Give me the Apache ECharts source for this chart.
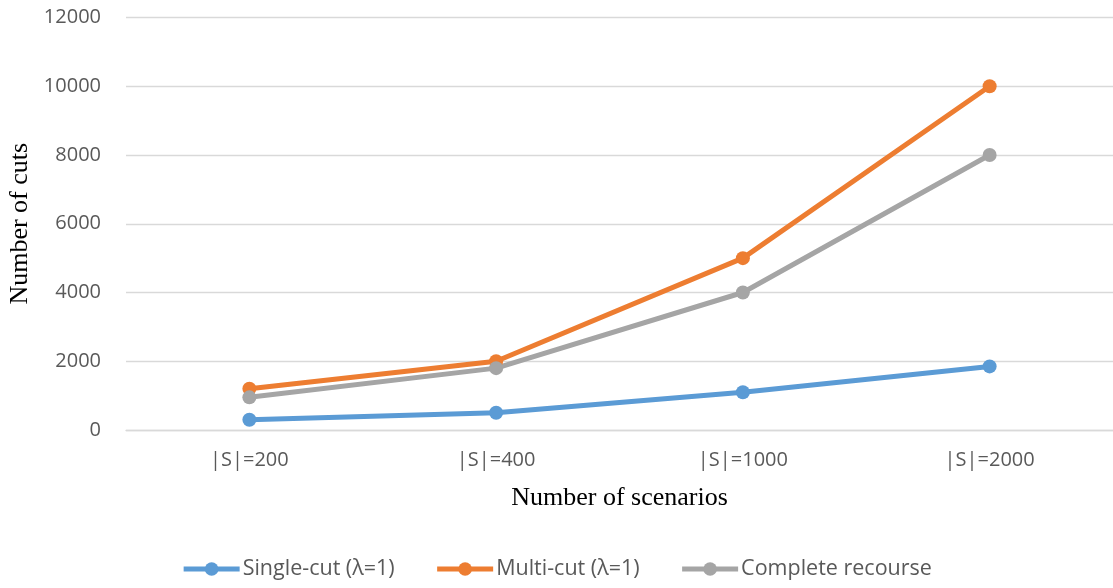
<!DOCTYPE html>
<html>
<head>
<meta charset="utf-8">
<script src="https://cdn.jsdelivr.net/npm/echarts@6/dist/echarts.min.js"></script>
<style>
  html, body { margin: 0; padding: 0; background: #fff; }
  #chart { width: 1113px; height: 588px; }
</style>
</head>
<body>
<div id="chart"></div>
<script>
// Scenario counts on the x axis
const categories = ['|S|=200', '|S|=400', '|S|=1000', '|S|=2000'];

// Number of cuts generated by each method
const singleCut = [300, 500, 1100, 1850];
const multiCut = [1200, 2000, 5000, 10000];
const completeRecourse = [950, 1800, 4000, 8000];

const seriesNames = ['Single-cut (\u03bb=1)', 'Multi-cut (\u03bb=1)', 'Complete recourse'];
const seriesColors = ['#5B9BD5', '#ED7D31', '#A5A5A5'];

const yTicks = { min: 0, max: 12000, interval: 2000 };

const labelFont = '"Open Sans", "Noto Sans", sans-serif';
const titleFont = '"Liberation Serif", "DejaVu Serif", serif';

function lineSeries(name, data, color) {
  return {
    name: name,
    type: 'line',
    data: data,
    symbol: 'circle',
    symbolSize: 14,
    lineStyle: { width: 5, color: color },
    itemStyle: { color: color },
    emphasis: { disabled: true }
  };
}

const chart = echarts.init(document.getElementById('chart'), null, { renderer: 'canvas' });
chart.setOption({
  animation: false,
  backgroundColor: '#ffffff',
  color: seriesColors,
  grid: { left: 126, right: 0, top: 17.5, bottom: 158, containLabel: false, outerBoundsMode: 'none' },
  xAxis: {
    type: 'category',
    data: categories,
    boundaryGap: true,
    axisLine: { lineStyle: { color: '#D9D9D9', width: 1.3 } },
    axisTick: { show: false },
    axisLabel: { color: '#595959', fontFamily: labelFont, fontSize: 20, margin: 20 },
    name: 'Number of scenarios',
    nameLocation: 'middle',
    nameGap: 55,
    nameTextStyle: { color: '#000', fontFamily: titleFont, fontSize: 26 }
  },
  yAxis: {
    type: 'value',
    min: yTicks.min,
    max: yTicks.max,
    interval: yTicks.interval,
    axisLine: { show: false },
    axisTick: { show: false },
    splitLine: { lineStyle: { color: '#D9D9D9', width: 1.3 } },
    axisLabel: {
      color: '#595959', fontFamily: labelFont, fontSize: 20, margin: 25,
      formatter: function (v) { return String(v); }
    },
    name: 'Number of cuts',
    nameLocation: 'middle',
    nameGap: 90,
    nameTextStyle: { color: '#000', fontFamily: titleFont, fontSize: 26 }
  },
  legend: {
    bottom: 3,
    left: 'center',
    itemWidth: 56,
    itemHeight: 17,
    itemGap: 40,
    lineStyle: { width: 5 },
    textStyle: { color: '#595959', fontFamily: labelFont, fontSize: 21.5, padding: [0, 0, 0, -2] },
    data: seriesNames
  },
  series: [
    lineSeries(seriesNames[0], singleCut, seriesColors[0]),
    lineSeries(seriesNames[1], multiCut, seriesColors[1]),
    lineSeries(seriesNames[2], completeRecourse, seriesColors[2])
  ]
});
</script>
</body>
</html>
